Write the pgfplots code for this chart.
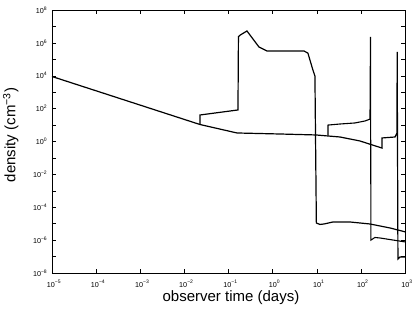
\documentclass[border=0pt]{standalone}
\usepackage{fontspec}
\setmainfont{Liberation Sans}
\usepackage{pgfplots}
\pgfplotsset{compat=1.18}
\begin{document}
\begin{tikzpicture}
\begin{axis}[
  name=ax,
  scale only axis,
  width=353bp, height=263bp,
  xmode=log, ymode=log,
  log basis x=10, log basis y=10,
  xmin=1e-5, xmax=1e3,
  ymin=1e-8, ymax=1e8,
  xtick={1e-5,1e-4,1e-3,1e-2,1e-1,1,1e1,1e2,1e3},
  ytick={1e-8,1e-7,1e-6,1e-5,1e-4,1e-3,1e-2,1e-1,1,1e1,1e2,1e3,1e4,1e5,1e6,1e7,1e8},
  tick align=inside,
  major tick length=4bp,
  minor tick length=2bp,
  axis line style={line width=0.5bp},
  every tick/.style={line width=0.4bp, black},
  xticklabel={\pgfmathtruncatemacro\e{round(\tick)}10\textsuperscript{\ifnum\e<0 −\the\numexpr-\e\relax\else\e\fi}},
  yticklabel={\pgfmathtruncatemacro\e{round(\tick)}\ifodd\e\else 10\textsuperscript{\ifnum\e<0 −\the\numexpr-\e\relax\else\e\fi}\fi},
  ticklabel style={font=\fontsize{7.2bp}{8.5bp}\selectfont},
  xticklabel style={anchor=base, yshift=-14bp, xshift=2bp, inner sep=0pt},
  yticklabel style={anchor=east, inner sep=0pt, xshift=-4.5bp},
  xlabel={observer time (days)},
  ylabel={density (cm\textsuperscript{−3})},
  label style={font=\fontsize{15bp}{18bp}\selectfont, inner sep=0pt},
  xlabel style={at={(axis description cs:0.507,-0.1065)}, anchor=base},
  ylabel style={at={(axis description cs:-0.1034,0.5247)}, anchor=base, rotate=0},
]
\addplot[black, line width=1.2bp] coordinates {
(1e-5,9e3) (0.0226,10.8) (0.156,3.3) (1.47,2.86) (9.6,2.5) (33.6,1.88)
(95,1.08) (300,0.40) (300,1.64) (593,1.88) (658,3.3) (665,2.8e5)
(692,7.1e-8) (769,9.5e-8) (1000,9.5e-8)
};
\addplot[black, line width=1.2bp] coordinates {
(0.0226,10.8) (0.0226,41) (0.164,83) (0.168,2.4e6) (0.185,3e6) (0.262,5.3e6)
(0.49,5.6e5) (0.745,3.2e5) (5.13,3.2e5) (6.3,2.4e5) (8.2,2.2e4) (9.1,9.7e3)
(9.8,1.1e-5) (11.8,9e-6) (14.6,9.6e-6) (23.3,1.27e-5) (56.6,1.27e-5)
(161,9.6e-6) (456,5.5e-6) (1000,3.2e-6)
};
\addplot[black, line width=1.1bp] coordinates {
(18,2.3) (18,10) (33.6,11.6) (73,13.4) (124,17.7) (161,23) (165,2.3e6)
(169,1.0e-6) (208,1.45e-6) (271,1.35e-6) (1000,7.8e-7)
};
\end{axis}
\pgfresetboundingbox
\path (ax.south west) ++(-52bp,-36bp) coordinate (bl);
\path (ax.north east) ++(10bp,10bp) coordinate (tr);
\path (bl) rectangle (tr);
\end{tikzpicture}
\end{document}
